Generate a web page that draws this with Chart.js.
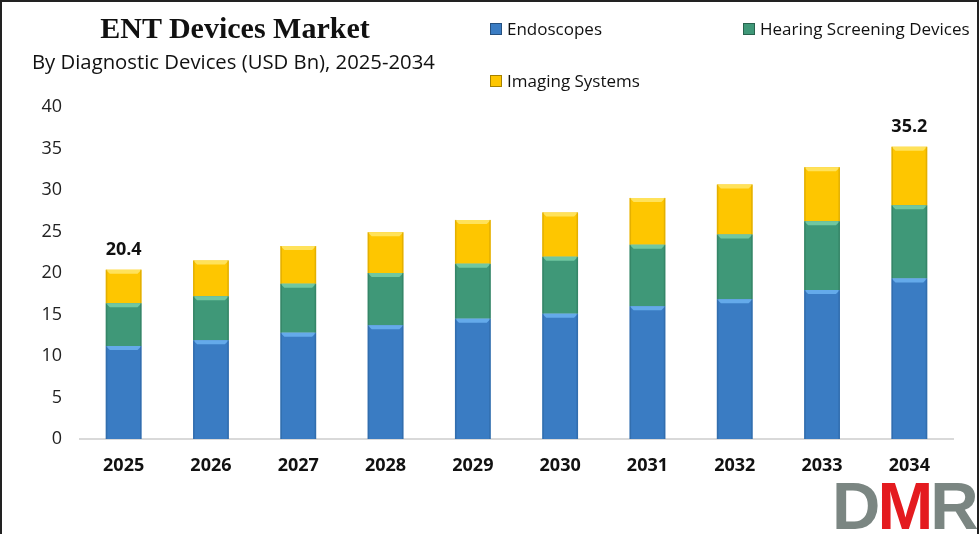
<!DOCTYPE html>
<html>
<head>
<meta charset="utf-8">
<script src="https://cdn.jsdelivr.net/npm/chart.js@4"></script>
<style>
  html, body { margin: 0; padding: 0; background: #fff; }
  #wrap { position: relative; width: 980px; height: 534px; overflow: hidden; }
  #frame { position: absolute; left: 0; top: 0; width: 975px; height: 540px;
    border: 2px solid #222; pointer-events: none; }
  canvas { position: absolute; left: 0; top: 0; }
  .title { position: absolute; left: 0; width: 470px; top: 11px; text-align: center;
    font: bold 30px "Liberation Serif", "Times New Roman", serif; color: #111; }
  .subtitle { position: absolute; left: 32px; top: 47px;
    font: 20.3px "Open Sans", sans-serif; color: #111; }
  .legend-item { position: absolute; font: 17px "Open Sans", sans-serif; color: #111;
    display: flex; align-items: center; white-space: nowrap; }
  .legend-item span.box { display: inline-block; width: 12px; height: 12px; margin-right: 5px;
    box-sizing: border-box; border: 1px solid rgba(0,0,0,0.35); }
  .logo { position: absolute; left: 832px; top: 467px; font: bold 67px "Liberation Sans", Arial, sans-serif;
    letter-spacing: -3px; }
  .logo .g { color: #7b8682; }
  .logo .r { color: #e41b1f; }
</style>
</head>
<body>
<div id="wrap">
  <canvas id="entChart" width="980" height="534"></canvas>
  <div class="title">ENT Devices Market</div>
  <div class="subtitle">By Diagnostic Devices (USD Bn), 2025-2034</div>
  <div id="legend"></div>
  <div class="logo"><span class="g">D</span><span class="r">M</span><span class="g">R</span></div>
  <div id="frame"></div>
</div>
<script>
const years = ["2025", "2026", "2027", "2028", "2029", "2030", "2031", "2032", "2033", "2034"];
const endoscopes = [11.2, 11.9, 12.8, 13.7, 14.5, 15.1, 16.0, 16.85, 17.95, 19.35];
const hearingScreening = [5.15, 5.3, 5.9, 6.3, 6.6, 6.85, 7.4, 7.8, 8.3, 8.8];
const imagingSystems = [4.05, 4.3, 4.55, 4.9, 5.3, 5.35, 5.65, 6.0, 6.5, 7.05];
const totalLabels = { 0: "20.4", 9: "35.2" };
const yTicks = [0, 5, 10, 15, 20, 25, 30, 35, 40];

const series = [
  { label: "Endoscopes", data: endoscopes, color: "#3a7cc3", light: "#64aaea", dark: "#2a5f9a" },
  { label: "Hearing Screening Devices", data: hearingScreening, color: "#3f9878", light: "#70c7a0", dark: "#2c7358" },
  { label: "Imaging Systems", data: imagingSystems, color: "#fec600", light: "#ffe25a", dark: "#c99a00" },
];

// html legend
const legendPos = [
  { left: 490, top: 17 },
  { left: 743, top: 17 },
  { left: 490, top: 69 },
];
const legendEl = document.getElementById("legend");
series.forEach((s, i) => {
  const item = document.createElement("div");
  item.className = "legend-item";
  item.style.left = legendPos[i].left + "px";
  item.style.top = legendPos[i].top + "px";
  item.innerHTML = `<span class="box" style="background:${s.color}"></span>${s.label}`;
  legendEl.appendChild(item);
});

// bevel look on each bar segment
const bevelPlugin = {
  id: "bevel",
  afterDatasetsDraw(chart) {
    const ctx = chart.ctx;
    chart.data.datasets.forEach((ds, di) => {
      const s = series[di];
      chart.getDatasetMeta(di).data.forEach((bar) => {
        const w = bar.width;
        const l = bar.x - w / 2, r = bar.x + w / 2;
        const t = bar.y, b = bar.base;
        const e = 4;
        ctx.save();
        ctx.fillStyle = s.light;
        ctx.beginPath();
        ctx.moveTo(l, t);
        ctx.lineTo(r, t);
        ctx.lineTo(r - e, t + e);
        ctx.lineTo(l + e, t + e);
        ctx.closePath();
        ctx.fill();
        ctx.fillStyle = s.dark;
        ctx.globalAlpha = 0.5;
        ctx.fillRect(l, t, 1.5, b - t);
        ctx.fillRect(r - 1.5, t, 1.5, b - t);
        ctx.restore();
      });
    });
  },
};

// totals above first and last bar
const totalsPlugin = {
  id: "totals",
  afterDatasetsDraw(chart) {
    const ctx = chart.ctx;
    const last = chart.getDatasetMeta(chart.data.datasets.length - 1);
    ctx.save();
    ctx.font = "bold 18px 'Open Sans', sans-serif";
    ctx.fillStyle = "#111";
    ctx.textAlign = "center";
    ctx.textBaseline = "bottom";
    Object.keys(totalLabels).forEach((idx) => {
      const bar = last.data[idx];
      ctx.fillText(totalLabels[idx], bar.x, bar.y - 11);
    });
    ctx.restore();
  },
};

new Chart(document.getElementById("entChart"), {
  type: "bar",
  data: {
    labels: years,
    datasets: series.map((s) => ({
      label: s.label,
      data: s.data,
      backgroundColor: s.color,
      borderWidth: 0,
      categoryPercentage: 1,
      barPercentage: 0.41,
    })),
  },
  options: {
    responsive: false,
    animation: false,
    layout: { padding: { top: 107, right: 27, left: 0, bottom: 0 } },
    plugins: { legend: { display: false }, tooltip: { enabled: false } },
    scales: {
      x: {
        stacked: true,
        grid: { display: false, drawTicks: false },
        border: { display: true, color: "#d9d9d9", width: 2 },
        ticks: { padding: 16, color: "#111", font: { family: "'Open Sans', sans-serif", size: 18, weight: "bold" } },
        afterFit(axis) { axis.height = 95; },
      },
      y: {
        stacked: true,
        min: 0,
        max: 40,
        afterBuildTicks(axis) { axis.ticks = yTicks.map((v) => ({ value: v })); },
        grid: { display: false, drawTicks: false },
        border: { display: false },
        ticks: { padding: 18, color: "#222", font: { family: "'Open Sans', sans-serif", size: 18 } },
        afterFit(axis) { axis.width = 80; },
      },
    },
  },
  plugins: [bevelPlugin, totalsPlugin],
});
</script>
</body>
</html>
